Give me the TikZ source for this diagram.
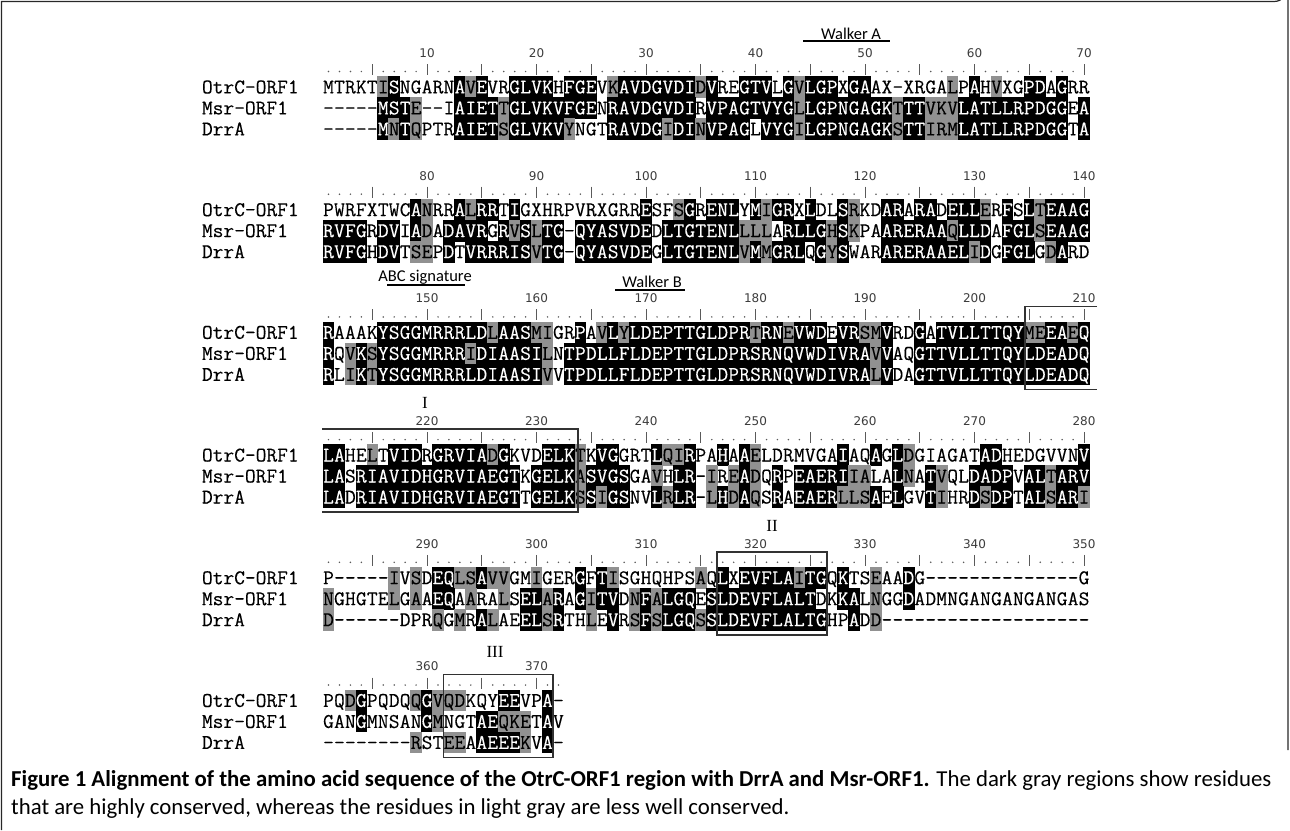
\documentclass[tikz,border=0pt]{standalone}
\usepackage{fontspec}
\newfontfamily\seqfont[FakeBold=0.2]{Latin Modern Mono}
\newfontfamily\numfont{DejaVu Sans}
\newfontfamily\lblfont{Carlito}
\newfontfamily\romfont{Liberation Serif}
\definecolor{shgray}{RGB}{145,145,145}
\definecolor{numgray}{RGB}{60,60,60}
\definecolor{rulgray}{RGB}{90,90,90}
\definecolor{boxgray}{RGB}{50,50,50}
\definecolor{framegray}{RGB}{40,40,40}
\tikzset{
  seqch/.style={font=\seqfont\fontsize{20.86}{20.86}\selectfont, anchor=base, inner sep=0pt, outer sep=0pt},
  namelab/.style={seqch, anchor=base west},
  numlab/.style={font=\numfont\fontsize{12}{12}\selectfont, text=numgray, inner sep=0pt},
  motif/.style={font=\lblfont\fontsize{16.5}{16.5}\selectfont, inner sep=0pt},
  romlab/.style={font=\romfont\fontsize{17}{17}\selectfont, inner sep=0pt},
  boxline/.style={draw=boxgray, line width=1.8pt},
  motifline/.style={draw=black, line width=1.2pt},
  capline/.style={font=\lblfont\fontsize{22.8}{22.8}\selectfont, anchor=base west, inner sep=0pt},
}
\makeatletter
\newcount\seqcol
\def\xzero{317.55}
\def\cw{10.95}
\newcommand\seqrow[4]{%
  \def\rowy{#1}%
  \node[namelab] at (202,\rowy+6.4) {#2};%
  \global\seqcol=0
  \seq@parse#3\relax#4\relax}
\def\seq@parse#1#2\relax#3#4\relax{%
  \global\advance\seqcol by 1
  \seq@cell{#1}{#3}%
  \if\relax\detokenize{#2}\relax\else\seq@parse#2\relax#4\relax\fi}
\def\seq@cell#1#2{%
  \pgfmathsetmacro\cx{\xzero+\the\seqcol*\cw}%
  \if b#2%
    \fill[black] (\cx-5.8,\rowy-10.8) rectangle (\cx+5.8,\rowy+10.8);
    \node[seqch,text=white] at (\cx,\rowy+6.4) {#1};
  \else\if g#2%
    \fill[shgray] (\cx-5.8,\rowy-10.8) rectangle (\cx+5.8,\rowy+10.8);
    \node[seqch,text=black] at (\cx,\rowy+6.4) {#1};
  \else
    \node[seqch] at (\cx,\rowy+6.4) {#1};
  \fi\fi}
\makeatother
\newcommand\alignblock[9]{%
  \pgfmathsetmacro\by{87+122.7*#1}%
  \foreach \k in {1,...,#3}{%
    \pgfmathsetmacro\rx{\xzero+\k*\cw}%
    \pgfmathtruncatemacro\rmodv{mod(\k,5)}%
    \ifnum\rmodv=0
      \draw[rulgray, line width=1.1pt] (\rx,\by-23) -- (\rx,\by-12);
    \else
      \fill[rulgray] (\rx,\by-15.5) circle (0.85);
    \fi
    \pgfmathtruncatemacro\rtmodv{mod(\k,10)}%
    \ifnum\rtmodv=0
      \pgfmathtruncatemacro\rnumv{#2+\k}%
      \node[numlab] at (\rx,\by-34) {\rnumv};
    \fi}%
  \seqrow{\by}{OtrC-ORF1}{#4}{#5}%
  \seqrow{\by+21}{Msr-ORF1}{#6}{#7}%
  \seqrow{\by+42}{DrrA}{#8}{#9}%
}
\begin{document}
\begin{tikzpicture}[x=1pt,y=-1pt]
\useasboundingbox (0,0) rectangle (1290,830);
\fill[white] (0,0) rectangle (1290,830);
% frame
\draw[framegray, line width=1.2pt] (1.5,830) -- (1.5,1.5) -- (1274,1.5) arc[start angle=90,end angle=0,radius=14] -- (1288,750);
% block 1
\alignblock{0}{0}{70}
 {MTRKTISNGARNAVEVRGLVKHFGEVKAVDGVDIDVREGTVLGVLGPXGAAX-XRGALPAHVXGPDAGRR}
 {.....gb.....bgb..bbbb.bbb.gbbbbbbbgb..bbb.bgbbb.bb.......g.b.g..bb.b..}
 {-----MSTE--IAIETTGLVKVFGENRAVDGVDIRVPAGTVYGLLGPNGAGKTTTVKVLATLLRPDGGEA}
 {.....bbbg...bbbbgbbbbbbbb.bbbbbbbb.bbbbbbbbgbbbbbbbbgbbgggbbbbbbbbbb.b}
 {-----MNTQPTRAIETSGLVKVYNGTRAVDGIDINVPAGLVYGILGPNGAGKSTTIRMLATLLRPDGGTA}
 {.....bgbg...bbbbgbbbbbg...bbbbbgbbgbbbb.bbbgbbbbbbbbgbbgggbbbbbbbbbb.b}
% block 2
\alignblock{1}{70}{70}
 {PWRFXTWCANRRALRRTIGXHRPVRXGRRESFSGRENLYMIGRXLDLSRKDARARADELLERFSLTEAAG}
 {........bg..bgbb.b...........b..gb.bbb.bgbb.b..bg..bb.bb.bbbg.b.bgbbbb}
 {RVFGRDVIADADAVRGRVSLTG-QYASVDEDLTGTENLLLLARLLGHSKPAARERAAQLLDAFGLSEAAG}
 {bbbb.bb.bg.bbbb.bgbgbb.bbbbbbb.bbbbbbbggg.bbbbgbg..bbbbbbgbbb.bbbgbbbb}
 {RVFGHDVTSEPDTVRRRISVTG-QYASVDEGLTGTENLVMMGRLQGYSWARARERAAELIDGFGLGDARD}
 {bbbb.bb.gg.b.bbbbbbgbb.bbbbbbb.bbbbbbbgbgbbb.bgb...bbbbbbbbgb.bbb.gb..}
% block 3
\alignblock{2}{140}{70}
 {RAAAKYSGGMRRRLDLAASMIGRPAVLYLDEPTTGLDPRTRNEVWDEVRSMVRDGATVLLTTQYMEEAEQ}
 {b....bbbbbbbbbbgbbbgg..b.gbgbbbbbbbbbbbgbbgbbb.bbggb..b.bbbbbbbbggbbgb}
 {RQVKSYSGGMRRRIDIAASILNTPDLLFLDEPTTGLDPRSRNQVWDIVRAVVAQGTTVLLTTQYLDEADQ}
 {b.gbgbbbbbbbbgbbbbbbg.bbbbbbbbbbbbbbbbbbbbbbbbbbbbgb..bbbbbbbbbbbbbbbb}
 {RLIKTYSGGMRRRLDIAASIVVTPDLLFLDEPTTGLDPRSRNQVWDIVRALVDAGTTVLLTTQYLDEADQ}
 {b.gbgbbbbbbbbbbbbbbbg.bbbbbbbbbbbbbbbbbbbbbbbbbbbbgb..bbbbbbbbbbbbbbbb}
% block 4
\alignblock{3}{210}{70}
 {LAHELTVIDRGRVIADGKVDELKTKVGGRTLQIRPAHAAELDRMVGAIAQAGLDGIAGATADHEDGVVNV}
 {bb..g.bbb.bbbbbgb...bbbg.bb...bggb..b.bg.......b..b.bg......bb.......b}
 {LASRIAVIDHGRVIAEGTKGELKASVGSGAVHLR-IREADQRPEAERIIALALNATVQLDADPVALTARV}
 {bb.bbbbbbbbbbbbbbb.bbbbgbbbb..g.bb.g.gbg.b.bbbbbgg..bg.bg..bbbb.bbgbbb}
 {LADRIAVIDHGRVIAEGTTGELKSSIGSNVLRLR-LHDAQSRAEAERLLSAELGVTIHRDSDPTALSARI}
 {bb.bbbbbbbbbbbbbbb.bbbbgbgbb..bgbb.gbgbg.b.bbbbgggb.b..bg..bgbb.bbgbbg}
% block 5
\alignblock{4}{280}{70}
 {P-----IVSDEQLSAVVGMIGERGFTISGHQHPSAQLXEVFLAITGQKTSEAADG--------------G}
 {......g.g.bbggbgg..g...b.bg.......g.b.bbbbbgbb.b..g..b................}
 {NGHGTELGAAEQAARALSELARAGITVDNFALGQESLDEVFLALTDKKALNGGDADMNGANGANGANGAS}
 {g.....g.g.bb.g..g.bbgb.bgbb.gbgbbb.bbbbbbbbbb..bb.g..b................}
 {D------DPRQGMRALAEELSRTHLEVRSFSLGQSSLDEVFLALTGHPADD-------------------}
 {g.........g.g.bg..bbgb..g.b.gbgbbbgbbbbbbbbbbb..b.g...................}
% block 6
\alignblock{5}{350}{22}
 {PQDGPQDQQGVQDKQYEEVPA-}
 {..gb....gbggg...bb..b.}
 {GANGMNSANGMNGTAEQKETAV}
 {...b.....bg...bbggg.b.}
 {--------RSTEEAAEEEKVA-}
 {........g..gg.bbbbg.b.}
% motif labels
\node[motif] (wa) at (851,34) {Walker A};
\draw[motifline] (803,41) -- (890,41);
\node[motif] (abc) at (425,277) {ABC signature};
\draw[motifline] (387,285) -- (465,285);
\node[motif] (wb) at (652,282) {Walker B};
\draw[motifline] (615,290) -- (685,290);
% boxes
\draw[boxline] (1097,306.4) -- (1025,306.4) -- (1025,389.4) -- (1097,389.4);
\draw[boxline] (322,429.1) -- (578,429.1) -- (578,512.1) -- (322,512.1);
\node[romlab] (r1) at (425,403) {I};
\draw[boxline] (717.2,551.8) rectangle (826.7,634.8);
\node[romlab] (r2) at (772,526) {II};
\draw[boxline] (443.5,674.5) rectangle (553,757.5);
\node[romlab] (r3) at (495,652) {III};
% caption
\node[capline] (cap1) at (11,786) {\textbf{Figure 1 Alignment of the amino acid sequence of the OtrC-ORF1 region with DrrA and Msr-ORF1.} The dark gray regions show residues};
\node[capline] (cap2) at (11,814) {that are highly conserved, whereas the residues in light gray are less well conserved.};
\end{tikzpicture}
\end{document}
